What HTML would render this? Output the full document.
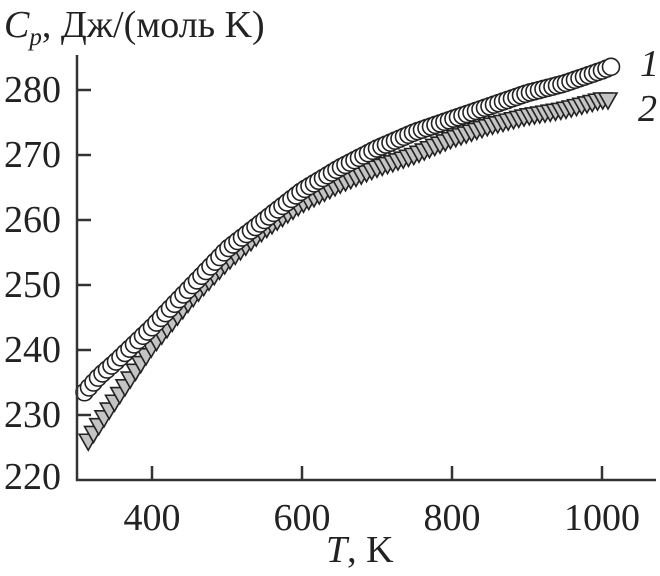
<!DOCTYPE html>
<html><head><meta charset="utf-8"><style>
html,body{margin:0;padding:0;background:#fff}
svg{display:block}
text{font-family:"Liberation Serif",serif;fill:#222}
</style></head><body>
<svg id="s" width="660" height="576" viewBox="0 0 660 576" xmlns="http://www.w3.org/2000/svg">
<g id="pts"></g>
<g stroke="#333" stroke-width="2.5" fill="none">
<path d="M77 55 V480 H656"/>
<path d="M77 90h14M77 155h14M77 220h14M77 285h14M77 350h14M77 415h14"/>
<path d="M152 480v-14M302 480v-14M452 480v-14M602 480v-14"/>
</g>
<g font-size="38" text-anchor="end">
<text x="61" y="102">280</text><text x="61" y="167">270</text><text x="61" y="232">260</text>
<text x="61" y="297">250</text><text x="61" y="362">240</text><text x="61" y="427">230</text>
<text x="61" y="489">220</text>
</g>
<g font-size="38" text-anchor="middle">
<text x="152" y="530">400</text><text x="302" y="530">600</text><text x="452" y="530">800</text><text x="602" y="530">1000</text>
</g>
<text x="4" y="37" font-size="38"><tspan font-style="italic">C</tspan><tspan font-style="italic" font-size="25" dy="8">p</tspan><tspan dy="-8">, Дж/(моль K)</tspan></text>
<text x="326" y="562" font-size="38"><tspan font-style="italic">T</tspan>, K</text>
<text x="640" y="76" font-size="38" font-style="italic">1</text>
<text x="638" y="121" font-size="38" font-style="italic">2</text>
</svg>
<script>
function X(t){return 77+(t-300)*0.75}
function Y(c){return 480-(c-220)*6.5}
function interp(p,t){for(var i=0;i<p.length-1;i++){if(t<=p[i+1][0]){var a=p[i],b=p[i+1];return a[1]+(b[1]-a[1])*(t-a[0])/(b[0]-a[0]);}}return p[p.length-1][1];}
var C=[[310,233.5],[330,236],[350,238],[400,243.5],[450,249.5],[500,255.5],[550,260],[600,264.5],[650,268],[700,271],[750,273.5],[800,275.5],[850,277.5],[900,279.5],[950,281],[1000,283],[1015,283.7]];
var T=[[315,225.5],[350,231.5],[400,240],[450,247],[500,253],[550,258],[600,262],[650,265],[700,267.5],[750,269.5],[800,272],[850,274],[900,275.5],[950,276.5],[1000,278],[1012,278]];
var g=document.getElementById('pts'),h='';
for(var t=315;t<=1012;t+=7){var x=X(t),y=Y(interp(T,t))-3;
h+='<path d="M'+(x-9)+' '+(y-7)+'h18l-9 16z" fill="#c4c4c4" stroke="#222" stroke-width="1.6"/>';}
for(var t=310;t<=1015;t+=6){var x=X(t),y=Y(interp(C,t));
h+='<circle cx="'+x+'" cy="'+y+'" r="8.5" fill="#fff" stroke="#222" stroke-width="1.6"/>';}
g.innerHTML=h;
</script>
</body></html>
